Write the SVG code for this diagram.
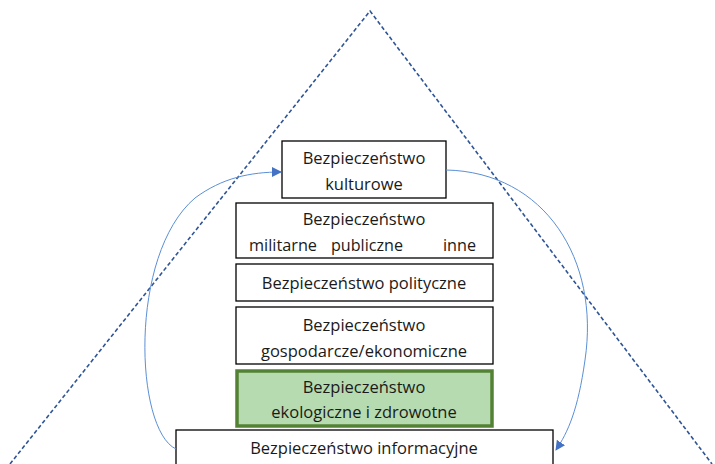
<svg xmlns="http://www.w3.org/2000/svg" width="715" height="464" viewBox="0 0 715 464">
<defs>
<style>
.box{fill:#ffffff;stroke:#000000;stroke-width:1.3}
.green{fill:#b6dbb0;stroke:#548235;stroke-width:3.5}
.t{font-family:"Open Sans","Liberation Sans",sans-serif;font-size:16.5px;fill:#1a1a1a;text-anchor:middle}
.s{text-anchor:start}
.tri{fill:none;stroke:#2f5597;stroke-width:1.6;stroke-dasharray:4 2.5}
.arc{fill:none;stroke:#5b8fd6;stroke-width:1}
</style>
<marker id="ah" viewBox="0 0 10 10" refX="9" refY="5" markerWidth="10" markerHeight="10" markerUnits="userSpaceOnUse" orient="auto">
<path d="M0,0 L10,5 L0,10 z" fill="#4472c4"/>
</marker>
</defs>
<rect width="715" height="464" fill="#ffffff"/>
<g id="triangle">
<polyline class="tri" points="10,464 370,11 712,464"/>
</g>
<g id="n1">
<rect class="box" x="282" y="141" width="164" height="57"/>
<text class="t" x="364" y="164">Bezpieczeństwo</text>
<text class="t" x="364" y="190">kulturowe</text>
</g>
<g id="n2">
<rect class="box" x="236" y="203" width="257" height="55"/>
<text class="t" x="364" y="225">Bezpieczeństwo</text>
<text class="t s" x="249" y="251" textLength="68" lengthAdjust="spacingAndGlyphs">militarne</text>
<text class="t s" x="331" y="251" textLength="72" lengthAdjust="spacingAndGlyphs">publiczne</text>
<text class="t s" x="443" y="251" textLength="33" lengthAdjust="spacingAndGlyphs">inne</text>
</g>
<g id="n3">
<rect class="box" x="236" y="264" width="257" height="37"/>
<text class="t" x="364" y="289">Bezpieczeństwo polityczne</text>
</g>
<g id="n4">
<rect class="box" x="236" y="307" width="257" height="57"/>
<text class="t" x="364" y="331">Bezpieczeństwo</text>
<text class="t" x="364" y="357">gospodarcze/ekonomiczne</text>
</g>
<g id="n5">
<rect class="green" x="237" y="371" width="255" height="55"/>
<text class="t" x="364" y="393">Bezpieczeństwo</text>
<text class="t" x="364" y="418">ekologiczne i zdrowotne</text>
</g>
<g id="n6">
<rect class="box" x="176" y="430" width="377" height="40"/>
<text class="t" x="364" y="454">Bezpieczeństwo informacyjne</text>
</g>
<g id="connectors">
<path class="arc" d="M176,449 C135,430 128,255 195,198 C222,178 250,172 281,172" marker-end="url(#ah)"/>
<path class="arc" d="M446,170 C545,172 600,260 585,360 C578,410 568,432 556,450" marker-end="url(#ah)"/>
</g>
</svg>
